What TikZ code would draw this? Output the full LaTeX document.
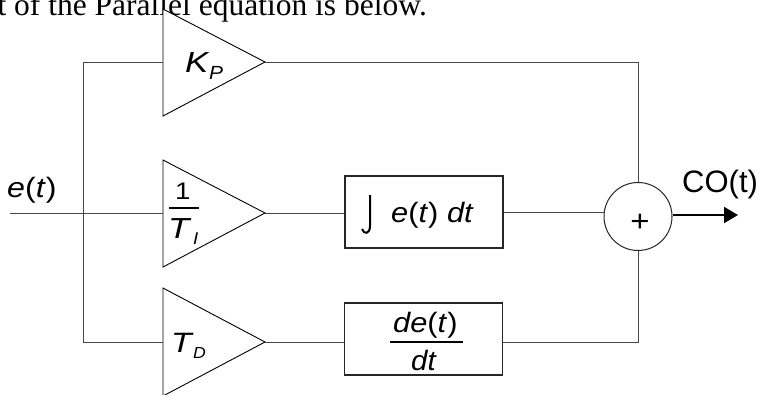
\documentclass[tikz,border=0pt]{standalone}
\usepackage{fontspec}
\setmainfont{Liberation Sans}
\newfontfamily\seriffont{Liberation Serif}
\usetikzlibrary{arrows.meta}
\definecolor{wire}{RGB}{70,70,70}
\tikzset{
  wirestyle/.style={draw=wire, line width=1pt},
  amp/.style={draw=black, line width=0.9pt, fill=white},
  blockbox/.style={draw=black!85, line width=1.1pt, minimum width=158pt, minimum height=72pt, inner sep=0pt},
  sumnode/.style={draw=black!85, line width=1pt, circle, minimum size=68pt, inner sep=0pt},
  lbl/.style={inner sep=0pt, anchor=base west},
}
\newcommand{\fs}[1]{\fontsize{#1}{#1}\selectfont}
\newcommand{\widen}[2]{\scalebox{#1}[1]{#2}}
\begin{document}
\begin{tikzpicture}[x=1pt,y=-1pt]
\useasboundingbox (0,0) rectangle (759,394);
\fill[white] (0,0) rectangle (759,394);
\clip (0,0) rectangle (759,394);
% heading text (clipped)
\node[inner sep=0pt, anchor=base east] (head) at (427,15) {\seriffont\fs{31.5}t of the Parallel equation is below.};
% coordinates
\coordinate (in) at (10,213);
\coordinate (ktop) at (83,62);
\coordinate (kbot) at (83,342);
\coordinate (kpin) at (163,62);
\coordinate (kpout) at (265,62);
\coordinate (tiin) at (163,213);
\coordinate (tiout) at (265,213);
\coordinate (tdin) at (163,342);
\coordinate (tdout) at (265,342);
\coordinate (co) at (738,215);
% amplifiers
\draw[amp] (163,9) -- (163,116) -- (kpout) -- cycle;
\draw[amp] (163,160) -- (163,267) -- (tiout) -- cycle;
\draw[amp] (163,288) -- (163,396) -- (tdout) -- cycle;
% blocks
\node[blockbox] (intbox) at (424,212) {};
\node[blockbox] (dbox) at (423.5,339) {};
\node[sumnode] (sum) at (638,216.5) {};
% connectors
\draw[wirestyle] (in) -- (tiin);
\draw[wirestyle] (kpin) -- (ktop) -- (kbot) -- (tdin);
\draw[wirestyle] (kpout) -| (sum.north);
\draw[wirestyle] (tiout) -- (tiout -| intbox.west);
\draw[wirestyle] (intbox.east) -- (intbox.east -| sum.west);
\draw[wirestyle] (tdout) -- (tdout -| dbox.west);
\draw[wirestyle] (dbox.east |- tdout) -| (sum.south);
\draw[black, line width=2pt, -{Triangle[length=14pt,width=16pt]}] (sum.east |- co) -- (co);
% labels
\node[lbl] (et) at (7,197) {\widen{1.15}{\fs{28}\textit{e}(\textit{t})}};
\node[lbl] (kp) at (185,72) {\widen{1.2}{\fs{29}\textit{K}}};
\node[lbl] (kps) at (209,79) {\widen{1.1}{\fs{19}\textit{P}}};
\node[lbl] (one) at (175,199) {\widen{1.15}{\fs{24}1}};
\draw[black, line width=1.6pt] (169,208) -- (199,208);
\node[lbl] (ti) at (168,238) {\widen{1.2}{\fs{29}\textit{T}}};
\node[lbl] (tis) at (193,244) {\widen{1.1}{\fs{17}\textit{I}}};
\node[lbl] (td) at (171,352) {\widen{1.2}{\fs{28}\textit{T}}};
\node[lbl] (tds) at (193,358) {\widen{1.1}{\fs{16}\textit{D}}};
% integral sign
\draw[black, line width=2pt] (370,195) -- (370,226) .. controls (370,234) and (364,235) .. (362,229);
\node[lbl] (iet) at (391,222) {\widen{1.1}{\fs{28}\textit{e}(\textit{t}) \textit{dt}}};
\node[lbl] (det) at (393,332) {\widen{1.1}{\fs{28}\textit{de}(\textit{t})}};
\draw[black, line width=1.6pt] (390,342) -- (463,342);
\node[lbl] (dt) at (411,370) {\widen{1.05}{\fs{28}\textit{dt}}};
\node[inner sep=0pt] (plus) at (640,223) {\widen{1.1}{\fs{30}+}};
\node[lbl] (colbl) at (682,192) {\fs{31}CO(t)};
\end{tikzpicture}
\end{document}
